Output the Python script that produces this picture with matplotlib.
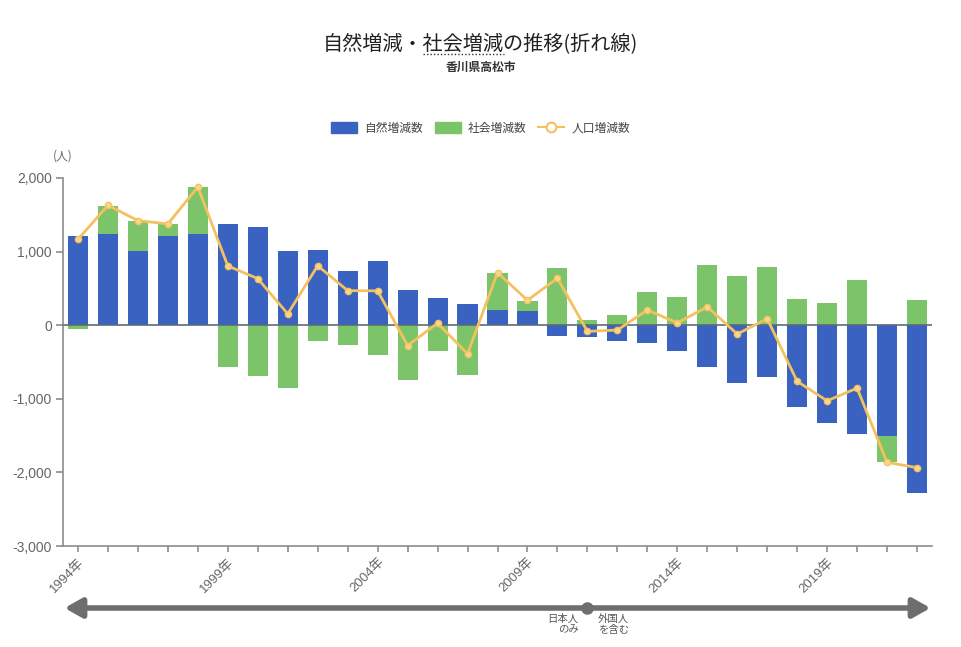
import matplotlib
matplotlib.use("Agg")
import matplotlib.pyplot as plt
from matplotlib.patches import Patch
from matplotlib.lines import Line2D
from matplotlib.transforms import blended_transform_factory
import numpy as np

plt.rcParams['font.family'] = ['Noto Sans CJK JP', 'DejaVu Sans']

# Data: Takamatsu city (Kagawa), yearly population change
years = list(range(1994, 2023))
natural_change = [1217, 1235, 1014, 1213, 1235, 1376, 1330, 1014, 1027, 742,
                  869, 475, 371, 290, 204, 199, -140, -163, -208, -244,
                  -344, -570, -787, -710, -1113, -1335, -1475, -1502, -2276]
social_change = [-50, 390, 405, 160, 643, -570, -692, -855, -213, -267,
                 -403, -751, -344, -674, 505, 135, 778, 77, 145, 448,
                 380, 819, 670, 796, 353, 308, 620, -353, 344]
population_change = [1167, 1629, 1421, 1376, 1878, 805, 633, 154, 808, 470,
                     466, -276, 27, -389, 714, 339, 638, -84, -66, 206,
                     32, 249, -120, 88, -763, -1027, -855, -1864, -1935]
tick_years = [1994, 1999, 2004, 2009, 2014, 2019]
ytick_values = [2000, 1000, 0, -1000, -2000, -3000]
ytick_labels = ["2,000", "1,000", "0", "-1,000", "-2,000", "-3,000"]

BLUE = "#3a63c1"
GREEN = "#7cc46a"
ORANGE = "#f3c15f"
GRAY_TEXT = "#666666"
AXIS_GRAY = "#8c8c8c"

W, H = 961, 647
fig = plt.figure(figsize=(W / 100, H / 100), dpi=100)
ax = fig.add_axes([63 / W, 1 - 546 / H, (932 - 63) / W, (546 - 178) / H])

x = np.arange(len(years))
nat = np.array(natural_change, dtype=float)
soc = np.array(social_change, dtype=float)

# Stack positives upward and negatives downward
nat_bottom = np.zeros_like(nat)
soc_bottom = np.where(np.sign(soc) == np.sign(nat), nat, 0.0)

bw = 0.67
ax.bar(x, nat, bw, bottom=nat_bottom, color=BLUE, zorder=2)
ax.bar(x, soc, bw, bottom=soc_bottom, color=GREEN, zorder=2)
ax.axhline(0, color="#5b6b7a", lw=1.2, zorder=3)
ax.plot(x, population_change, color=ORANGE, lw=2, marker="o", markersize=4.5,
        markerfacecolor="#f8d78c", markeredgecolor=ORANGE, markeredgewidth=1,
        zorder=4)

ax.set_xlim(-0.5, len(years) - 0.5)
ax.set_ylim(-3000, 2000)
for s in ["top", "right"]:
    ax.spines[s].set_visible(False)
for s in ["left", "bottom"]:
    ax.spines[s].set_color(AXIS_GRAY)
    ax.spines[s].set_linewidth(1.2)

ax.set_yticks(ytick_values)
ax.set_yticklabels(ytick_labels, family=['Liberation Sans', 'Noto Sans CJK JP'],
                   fontsize=10, color=GRAY_TEXT)
ax.tick_params(axis="y", length=5, color=AXIS_GRAY, width=1.2, pad=3)

ax.set_xticks(x)
ax.set_xticklabels([f"{y}年" if y in tick_years else "" for y in years],
                   rotation=45, ha="right", rotation_mode="anchor",
                   family=['Liberation Sans', 'Noto Sans CJK JP'],
                   fontsize=9.5, color=GRAY_TEXT)
ax.tick_params(axis="x", length=4, color=AXIS_GRAY, width=1.2, pad=3)

ax.text(0, 1.06, "(人)", transform=ax.transAxes, ha="center", va="center",
        fontsize=8.5, color=GRAY_TEXT)

# Titles
title_y = 1 - 45 / H
title = fig.text(0.5, title_y, "自然増減・社会増減の推移(折れ線)", ha="center",
                 va="center", fontsize=14.5, color="#222222")
fig.text(0.5, 1 - 67 / H, "香川県高松市", ha="center", va="center",
         fontsize=8.5, color="#333333", fontweight="bold")

# Dotted underline below 社会増減 in the title
fig.canvas.draw()
renderer = fig.canvas.get_renderer()
tb = title.get_window_extent(renderer)
prop = title.get_fontproperties()
def text_width(s):
    w, _, _ = renderer.get_text_width_height_descent(s, prop, ismath=False)
    return w
x0 = tb.x0 + text_width("自然増減・")
x1 = tb.x0 + text_width("自然増減・社会増減")
yl = tb.y0 + 2
fig.add_artist(Line2D([x0 / W, x1 / W], [yl / H, yl / H], transform=fig.transFigure,
                      color="#333333", lw=1, linestyle=(0, (1, 1.5))))

# Legend
handles = [
    Patch(facecolor=BLUE, edgecolor=BLUE),
    Patch(facecolor=GREEN, edgecolor=GREEN),
    Line2D([0], [0], color=ORANGE, lw=1.5, marker="o", markersize=7,
           markerfacecolor="white", markeredgecolor=ORANGE, markeredgewidth=1.5),
]
fig.legend(handles, ["自然増減数", "社会増減数", "人口増減数"], loc="center",
           bbox_to_anchor=(0.5, 1 - 128 / H), ncol=3, frameon=False,
           fontsize=8.5, handlelength=2.2, handleheight=1.0, columnspacing=1.0,
           handletextpad=0.6, labelcolor="#444444")

# Timeline arrow with the break point for counting method
trans = blended_transform_factory(ax.transData, fig.transFigure)
arrow_y = 1 - 608 / H
ax.annotate("", xy=(28.45, arrow_y), xytext=(-0.45, arrow_y), xycoords=trans,
            textcoords=trans, annotation_clip=False,
            arrowprops=dict(arrowstyle="<|-|>,head_length=0.8,head_width=0.45",
                            lw=4, color="#6e6e6e", shrinkA=0, shrinkB=0,
                            mutation_scale=13))
break_idx = years.index(2011)
ax.plot([break_idx], [arrow_y], transform=trans, marker="o", markersize=8,
        color="#6e6e6e", clip_on=False, zorder=5)
ax.text(break_idx - 0.3, 1 - 614 / H, "日本人\nのみ", transform=trans,
        ha="right", va="top", fontsize=7.5, color="#555555", linespacing=1.05,
        multialignment="right")
ax.text(break_idx + 0.35, 1 - 614 / H, "外国人\nを含む", transform=trans,
        ha="left", va="top", fontsize=7.5, color="#555555", linespacing=1.05)

fig.savefig("out.png", dpi=100, facecolor="white")
